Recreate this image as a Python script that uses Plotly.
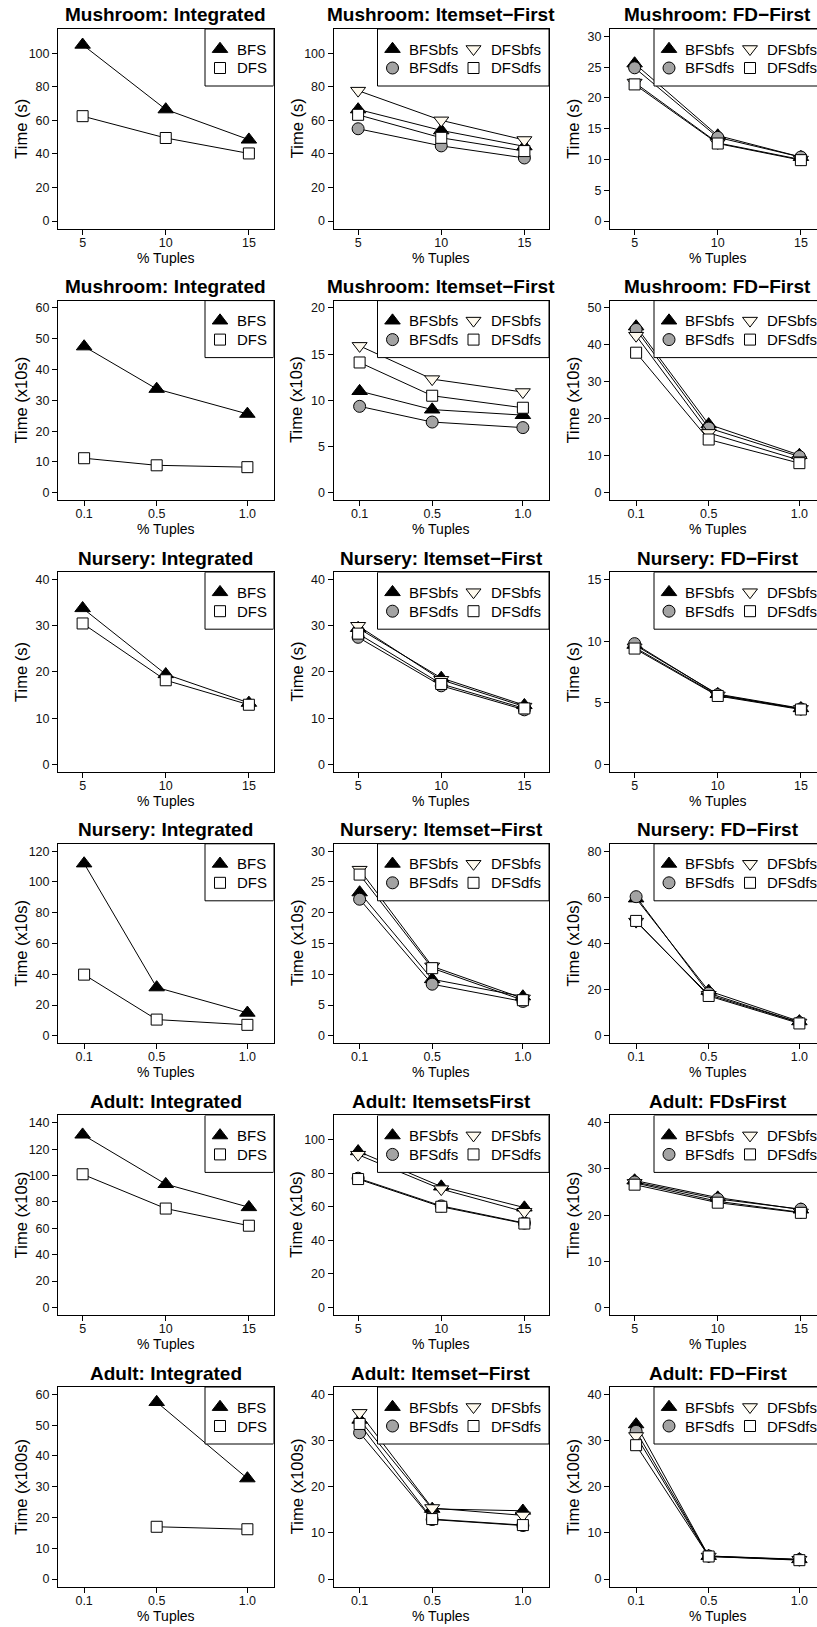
import plotly.graph_objects as go

# ---------------- data ----------------
x_pct = [5, 10, 15]
x_frac = [0.1, 0.5, 1.0]
x_pct_labels = ["5", "10", "15"]
x_frac_labels = ["0.1", "0.5", "1.0"]

# Row 1: Mushroom, Time (s)
mush_s_int_bfs = [105.0, 66.5, 48.5]
mush_s_int_dfs = [62.5, 49.5, 40.3]
mush_s_item_bfsbfs = [66.5, 54.0, 44.5]
mush_s_item_bfsdfs = [55.0, 44.8, 37.6]
mush_s_item_dfsbfs = [77.7, 60.0, 48.3]
mush_s_item_dfsdfs = [63.3, 49.6, 41.7]
mush_s_fd_bfsbfs = [25.6, 13.9, 10.4]
mush_s_fd_bfsdfs = [24.9, 13.6, 10.4]
mush_s_fd_dfsbfs = [22.5, 12.7, 10.0]
mush_s_fd_dfsdfs = [22.2, 12.6, 9.9]

# Row 2: Mushroom, Time (x10s)
mush_10s_int_bfs = [47.5, 33.7, 25.6]
mush_10s_int_dfs = [11.2, 8.9, 8.3]
mush_10s_item_bfsbfs = [11.0, 9.0, 8.4]
mush_10s_item_bfsdfs = [9.35, 7.65, 7.05]
mush_10s_item_dfsbfs = [15.9, 12.3, 10.9]
mush_10s_item_dfsdfs = [14.1, 10.5, 9.2]
mush_10s_fd_bfsbfs = [45.0, 18.5, 10.2]
mush_10s_fd_bfsdfs = [44.2, 17.5, 9.8]
mush_10s_fd_dfsbfs = [42.5, 16.2, 8.8]
mush_10s_fd_dfsdfs = [37.9, 14.4, 8.0]

# Row 3: Nursery, Time (s)
nurs_s_int_bfs = [33.8, 19.5, 13.3]
nurs_s_int_dfs = [30.5, 18.2, 12.9]
nurs_s_item_bfsbfs = [29.5, 18.7, 12.8]
nurs_s_item_bfsdfs = [27.5, 17.0, 11.8]
nurs_s_item_dfsbfs = [30.0, 18.3, 12.5]
nurs_s_item_dfsdfs = [28.3, 17.4, 12.1]
nurs_s_fd_bfsbfs = [9.7, 5.7, 4.55]
nurs_s_fd_bfsdfs = [9.8, 5.65, 4.5]
nurs_s_fd_dfsbfs = [9.5, 5.6, 4.5]
nurs_s_fd_dfsdfs = [9.4, 5.55, 4.45]

# Row 4: Nursery, Time (x10s)
nurs_10s_int_bfs = [112.0, 31.5, 15.0]
nurs_10s_int_dfs = [39.8, 10.6, 7.2]
nurs_10s_item_bfsbfs = [23.3, 9.2, 6.4]
nurs_10s_item_bfsdfs = [22.2, 8.4, 5.6]
nurs_10s_item_dfsbfs = [27.0, 11.3, 6.1]
nurs_10s_item_dfsdfs = [26.2, 11.0, 5.8]
nurs_10s_fd_bfsbfs = [59.5, 19.5, 6.3]
nurs_10s_fd_bfsdfs = [60.3, 18.5, 5.8]
nurs_10s_fd_dfsbfs = [49.5, 17.8, 5.8]
nurs_10s_fd_dfsdfs = [49.8, 17.3, 5.4]

# Row 5: Adult, Time (x10s)
adult_10s_int_bfs = [131.0, 93.5, 76.0]
adult_10s_int_dfs = [101.0, 75.0, 62.0]
adult_10s_item_bfsbfs = [93.0, 72.0, 59.5]
adult_10s_item_bfsdfs = [77.0, 60.5, 50.3]
adult_10s_item_dfsbfs = [91.0, 70.5, 57.0]
adult_10s_item_dfsdfs = [76.5, 60.0, 50.0]
adult_10s_fd_bfsbfs = [27.5, 23.8, 21.2]
adult_10s_fd_bfsdfs = [27.2, 23.5, 21.3]
adult_10s_fd_dfsbfs = [27.0, 23.0, 20.6]
adult_10s_fd_dfsdfs = [26.6, 22.7, 20.5]

# Row 6: Adult, Time (x100s)
adult_100s_int_bfs = [None, 57.5, 32.7]
adult_100s_int_dfs = [None, 17.0, 16.2]
adult_100s_item_bfsbfs = [34.5, 15.2, 14.8]
adult_100s_item_bfsdfs = [31.7, 12.9, 11.6]
adult_100s_item_dfsbfs = [36.0, 15.4, 13.8]
adult_100s_item_dfsdfs = [33.6, 13.0, 11.7]
adult_100s_fd_bfsbfs = [33.5, 5.0, 4.3]
adult_100s_fd_bfsdfs = [32.0, 5.0, 4.2]
adult_100s_fd_dfsbfs = [31.0, 4.9, 4.2]
adult_100s_fd_dfsdfs = [29.0, 4.9, 4.1]

titles = [
    "Mushroom: Integrated", "Mushroom: Itemset\u2212First", "Mushroom: FD\u2212First",
    "Mushroom: Integrated", "Mushroom: Itemset\u2212First", "Mushroom: FD\u2212First",
    "Nursery: Integrated", "Nursery: Itemset\u2212First", "Nursery: FD\u2212First",
    "Nursery: Integrated", "Nursery: Itemset\u2212First", "Nursery: FD\u2212First",
    "Adult: Integrated", "Adult: ItemsetsFirst", "Adult: FDsFirst",
    "Adult: Integrated", "Adult: Itemset\u2212First", "Adult: FD\u2212First",
]
row_ylabels = ["Time (s)", "Time (x10s)", "Time (s)", "Time (x10s)", "Time (x10s)", "Time (x100s)"]
row_xkind = ["pct", "frac", "pct", "frac", "pct", "frac"]
# y-axis upper limit and tick step per panel
ylims = [110, 110, 30, 60, 20, 50, 40, 40, 15, 120, 30, 80, 140, 110, 40, 60, 40, 40]
ysteps = [20, 20, 5, 10, 5, 10, 10, 10, 5, 20, 5, 20, 20, 20, 10, 10, 10, 10]
ytickmax = [100, 100, 30, 60, 20, 50, 40, 40, 15, 120, 30, 80, 140, 100, 40, 60, 40, 40]

series_two = ["BFS", "DFS"]
series_four = ["BFSbfs", "BFSdfs", "DFSbfs", "DFSdfs"]

panel_data = [
    [mush_s_int_bfs, mush_s_int_dfs],
    [mush_s_item_bfsbfs, mush_s_item_bfsdfs, mush_s_item_dfsbfs, mush_s_item_dfsdfs],
    [mush_s_fd_bfsbfs, mush_s_fd_bfsdfs, mush_s_fd_dfsbfs, mush_s_fd_dfsdfs],
    [mush_10s_int_bfs, mush_10s_int_dfs],
    [mush_10s_item_bfsbfs, mush_10s_item_bfsdfs, mush_10s_item_dfsbfs, mush_10s_item_dfsdfs],
    [mush_10s_fd_bfsbfs, mush_10s_fd_bfsdfs, mush_10s_fd_dfsbfs, mush_10s_fd_dfsdfs],
    [nurs_s_int_bfs, nurs_s_int_dfs],
    [nurs_s_item_bfsbfs, nurs_s_item_bfsdfs, nurs_s_item_dfsbfs, nurs_s_item_dfsdfs],
    [nurs_s_fd_bfsbfs, nurs_s_fd_bfsdfs, nurs_s_fd_dfsbfs, nurs_s_fd_dfsdfs],
    [nurs_10s_int_bfs, nurs_10s_int_dfs],
    [nurs_10s_item_bfsbfs, nurs_10s_item_bfsdfs, nurs_10s_item_dfsbfs, nurs_10s_item_dfsdfs],
    [nurs_10s_fd_bfsbfs, nurs_10s_fd_bfsdfs, nurs_10s_fd_dfsbfs, nurs_10s_fd_dfsdfs],
    [adult_10s_int_bfs, adult_10s_int_dfs],
    [adult_10s_item_bfsbfs, adult_10s_item_bfsdfs, adult_10s_item_dfsbfs, adult_10s_item_dfsdfs],
    [adult_10s_fd_bfsbfs, adult_10s_fd_bfsdfs, adult_10s_fd_dfsbfs, adult_10s_fd_dfsdfs],
    [adult_100s_int_bfs, adult_100s_int_dfs],
    [adult_100s_item_bfsbfs, adult_100s_item_bfsdfs, adult_100s_item_dfsbfs, adult_100s_item_dfsdfs],
    [adult_100s_fd_bfsbfs, adult_100s_fd_bfsdfs, adult_100s_fd_dfsbfs, adult_100s_fd_dfsdfs],
]

# ---------------- styles / layout ----------------
FONT = "Liberation Sans, Arial, Helvetica, sans-serif"
W_FIG, H_FIG = 817, 1627
LEFTS = [58, 333.5, 610]          # plot-box left edges (px)
BOX_W = 215.5
TOPS = [29 + 271.6 * r for r in range(6)]
BOX_H = 199.5

STYLE = {
    "BFS": dict(symbol="triangle-up", size=13.5, color="black"),
    "DFS": dict(symbol="square", size=11, color="white"),
    "BFSbfs": dict(symbol="triangle-up", size=13.5, color="black"),
    "BFSdfs": dict(symbol="circle", size=12, color="#A3A3A3"),
    "DFSbfs": dict(symbol="triangle-down", size=13, color="#FFFAEE"),
    "DFSdfs": dict(symbol="square", size=11, color="white"),
}

XRANGE = {"pct": (4, 16), "frac": (0.0, 1.1)}

fig = go.Figure()
annotations = []
layout_axes = {}

for i in range(18):
    r, c = divmod(i, 3)
    n = i + 1
    xname = "x" if n == 1 else f"x{n}"
    yname = "y" if n == 1 else f"y{n}"
    left, top = LEFTS[c], TOPS[r]
    right = left + BOX_W
    right_vis = min(right, W_FIG)
    kind = row_xkind[r]
    lo, hi = XRANGE[kind]
    pad = 0.04 * (hi - lo)
    x0, x1 = lo - pad, hi + pad
    x1_vis = x0 + (right_vis - left) / BOX_W * (x1 - x0)
    ytop = ylims[i]
    y0, y1 = -0.04 * ytop, 1.04 * ytop
    xs = x_pct if kind == "pct" else x_frac
    xl = x_pct_labels if kind == "pct" else x_frac_labels

    def px2x(px):
        return x0 + (px - left) / BOX_W * (x1 - x0)

    def px2y(py):
        return y0 + (top + BOX_H - py) / BOX_H * (y1 - y0)

    axis_common = dict(showgrid=False, zeroline=False, showline=True, linecolor="black",
                       linewidth=1, ticks="outside", ticklen=5, tickwidth=1, tickcolor="black",
                       tickfont=dict(family=FONT, size=12.5, color="#111"), fixedrange=True)
    layout_axes["xaxis" if n == 1 else f"xaxis{n}"] = dict(
        domain=[left / W_FIG, right_vis / W_FIG], range=[x0, x1_vis], anchor=yname,
        tickmode="array", tickvals=xs, ticktext=xl, mirror=True, ticklabelstandoff=-3,
        **axis_common)
    layout_axes["yaxis" if n == 1 else f"yaxis{n}"] = dict(
        domain=[1 - (top + BOX_H) / H_FIG, 1 - top / H_FIG], range=[y0, y1], anchor=xname,
        tickmode="array", tickvals=list(range(0, ytickmax[i] + 1, ysteps[i])),
        mirror=(c < 2), **axis_common)

    names = series_two if c == 0 else series_four
    for name, vals in zip(names, panel_data[i]):
        st = STYLE[name]
        fig.add_trace(go.Scatter(
            x=xs, y=vals, mode="lines+markers", xaxis=xname, yaxis=yname, showlegend=False,
            line=dict(color="black", width=1),
            marker=dict(symbol=st["symbol"], size=st["size"], color=st["color"],
                        line=dict(color="black", width=1)),
            hoverinfo="skip"))

    # legend box
    lx0 = left + (147 if c == 0 else 44)
    ly1 = top + 57
    fig.add_trace(go.Scatter(
        x=[px2x(lx0), px2x(right), px2x(right), px2x(lx0), px2x(lx0)],
        y=[px2y(top), px2y(top), px2y(ly1), px2y(ly1), px2y(top)],
        mode="lines", fill="toself", fillcolor="white", line=dict(color="black", width=1),
        xaxis=xname, yaxis=yname, showlegend=False, hoverinfo="skip"))
    if c == 0:
        entries = [(names[0], 162, 177, 20), (names[1], 162, 177, 39)]
    else:
        entries = [(names[0], 59, 73, 20), (names[2], 140, 155, 20),
                   (names[1], 59, 73, 39), (names[3], 140, 155, 39)]
    for name, mx, tx, dy in entries:
        st = STYLE[name]
        fig.add_trace(go.Scatter(
            x=[px2x(left + mx)], y=[px2y(top + dy)], mode="markers", xaxis=xname, yaxis=yname,
            showlegend=False, hoverinfo="skip", cliponaxis=False,
            marker=dict(symbol=st["symbol"], size=st["size"], color=st["color"],
                        line=dict(color="black", width=1))))
        annotations.append(dict(
            x=(left + tx) / W_FIG, y=1 - (top + dy) / H_FIG, xref="paper", yref="paper",
            text=name, showarrow=False, xanchor="left", yanchor="middle",
            font=dict(family=FONT, size=15, color="black")))

    # title
    annotations.append(dict(
        x=(left + BOX_W / 2) / W_FIG, y=1 - (top - 14) / H_FIG, xref="paper", yref="paper",
        text="<b>" + titles[i] + "</b>", showarrow=False, xanchor="center", yanchor="middle",
        font=dict(family=FONT, size=19, color="black")))
    # x title
    annotations.append(dict(
        x=(left + BOX_W / 2) / W_FIG, y=1 - (top + BOX_H + 29) / H_FIG, xref="paper", yref="paper",
        text="% Tuples", showarrow=False, xanchor="center", yanchor="middle",
        font=dict(family=FONT, size=14, color="black")))
    # y title
    annotations.append(dict(
        x=(left - 37) / W_FIG, y=1 - (top + BOX_H / 2) / H_FIG, xref="paper", yref="paper",
        text=row_ylabels[r], showarrow=False, xanchor="center", yanchor="middle", textangle=-90,
        font=dict(family=FONT, size=16.5, color="black")))

fig.update_layout(
    width=W_FIG, height=H_FIG, margin=dict(l=0, r=0, t=0, b=0),
    paper_bgcolor="white", plot_bgcolor="white", showlegend=False,
    annotations=annotations, **layout_axes)

# remove the default page margin so the figure sits exactly in the window
fig.write_html("out.html", config={"displayModeBar": False, "staticPlot": True},
               post_script="document.body.style.margin='0';document.body.style.overflow='hidden';")
